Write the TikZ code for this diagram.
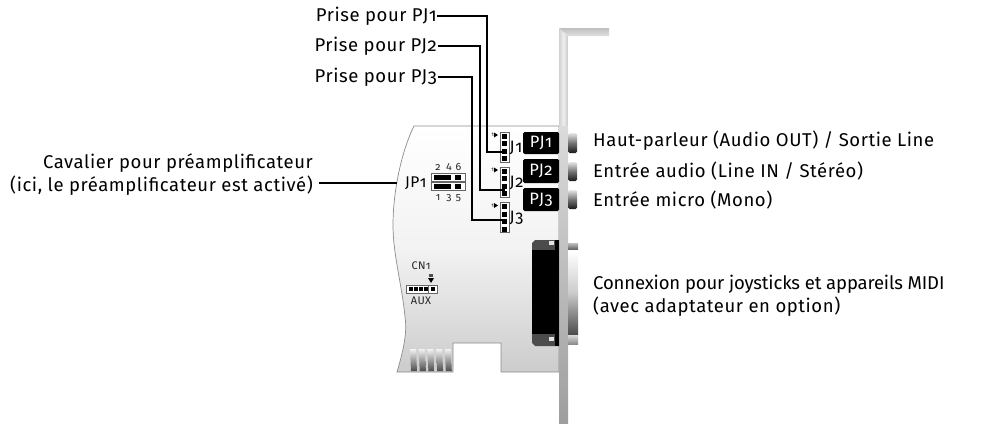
\documentclass[tikz,border=0pt]{standalone}
\usepackage{fontspec}
\setmainfont[Numbers=OldStyle,LetterSpace=3.1]{Fira Sans}
\usetikzlibrary{calc}
\tikzset{
  x=1pt,y=-1pt,
  lab/.style={inner sep=0pt,font=\fontsize{18.5}{23.5}\selectfont,align=left,anchor=west},
  labr/.style={inner sep=0pt,font=\fontsize{18.5}{23.5}\selectfont,align=right,anchor=east},
  wire/.style={draw=black,line width=2pt,line join=miter},
  pj/.style={fill=black,text=white,minimum width=36pt,inner sep=0pt,rounded corners=1.5pt,font=\fontsize{16.5}{17}\selectfont},
  tiny/.style={inner sep=0pt,font=\fontsize{10.5}{10.5}\selectfont,text=black!85},
  micro/.style={inner sep=0pt,font=\fontsize{6}{6}\selectfont},
  hdr/.style={draw=black!60,fill=white,line width=.8pt,minimum width=9pt,minimum height=30pt,inner sep=0pt},
}
\begin{document}
\begin{tikzpicture}
\useasboundingbox (0,0) rectangle (981,423);
% card
\path[draw=black!45,line width=.7pt,shade,shading angle=200,top color=white,bottom color=black!20,middle color=black!5]
 (414,126) -- (559,126) -- (559,372) -- (501,372) -- (501,343) -- (453,343) -- (453,372) -- (397,372)
 .. controls (405,345) and (407,330) .. (405,317)
 .. controls (402,285) and (393,255) .. (393,225)
 .. controls (393,190) and (402,150) .. (414,126) -- cycle;
% gold fingers
\foreach \fx in {410,418.7,427.4,436.1,444.8}
  \shade[top color=black!5,bottom color=black!70] (\fx,349) -- (\fx+6,349) -- (\fx+7,371) -- (\fx+1,371) -- cycle;
% bracket
\shade[left color=black!18,right color=black!22,middle color=black!6] (559,28) -- (568,36) -- (568,126) -- (559,126) -- cycle;
\shade[top color=black!25,bottom color=black!12] (559,28) -- (609,28) -- (609,36) -- (568,36) -- cycle;
\shade[top color=black!14,bottom color=black!38] (559,126) rectangle (568,423);
% dsub outer
\shade[shading angle=200,top color=white,bottom color=black!70,middle color=black!20] (568,251) rectangle (578,334);
\shade[top color=black!25,bottom color=black!60] (568,243) rectangle (578,249);
\shade[top color=black!15,bottom color=black!45] (568,335) rectangle (578,344);
% dsub
\fill[black!70] (559,240) -- (535,240) -- (532,243) -- (532,343) -- (535,346) -- (559,346) -- cycle;
\fill[black] (532,250) rectangle (559,334);
\fill[black] (555,240) rectangle (559,346);
\fill[black!10] (549,241) rectangle (554,245);
\fill[black!10] (549,337) rectangle (554,341);
% jacks
\foreach \jy/\jz in {133/153,162/181,190/209}
  \shade[top color=black!10,bottom color=black!90,middle color=black!55,rounded corners=1.5pt] (568,\jy) rectangle (577,\jz);
% PJ
\node[pj,minimum height=22pt] (pa) at (541,143) {PJ1};
\node[pj,minimum height=24pt] (pb) at (541,171) {PJ2};
\node[pj,minimum height=23pt] (pc) at (541,199.5) {PJ3};
% headers
\foreach \nm/\hy/\jl in {ha/147/J1,hb/182/J2,hc/217.5/J3}{
  \node[hdr] (\nm) at (504.5,\hy) {};
  \foreach \k in {-11,-3.5,4,11.5}
    \fill[black] (502,\hy+\k-2.5) rectangle (507,\hy+\k+2.5);
  \node[inner sep=0pt,font=\fontsize{16.5}{17}\selectfont,anchor=west] (\nm l) at (509.5,\hy+0.5) {\jl};
  \node[micro,anchor=east] (\nm m) at (494,\hy-12) {1};
  \fill[black] (494,\hy-14.5) -- (498,\hy-12) -- (494,\hy-9.5) -- cycle;
}
% wires
\node[labr] (ta) at (437,16) {Prise pour PJ1};
\node[labr] (tb) at (437,46) {Prise pour PJ2};
\node[labr] (tc) at (437,77) {Prise pour PJ3};
\coordinate (ea) at (505,152);
\coordinate (eb) at (505,190);
\coordinate (ec) at (505,220);
\coordinate (ca) at (487,15.5);
\coordinate (cb) at (480,46);
\coordinate (cc) at (472,77);
\draw[wire] (ta.east) ++(1,0) |- (ca) |- (ea);
\draw[wire] (tb.east) ++(1,0) -- (cb) |- (eb);
\draw[wire] (tc.east) ++(1,0) -- (cc) |- (ec);
% JP1
\node[labr] (tj) at (313,174.5) {Cavalier pour préamplificateur\\(ici, le préamplificateur est activé)};
\coordinate (ej) at (397,183);
\draw[line width=1.6pt] (319,183) coordinate (sj) -- (ej);
\node[inner sep=0pt,font=\fontsize{15.5}{16}\selectfont,anchor=west] (jp) at (405,183) {JP1};
\draw[draw=black!60,fill=white,line width=.8pt] (431,173) rectangle (465,181);
\draw[draw=black!60,fill=white,line width=.8pt] (431,182) rectangle (465,190);
\fill[black] (434,175) rectangle (451,179.5);
\fill[black] (434,184) rectangle (451,188.5);
\fill[black] (455,175) rectangle (461,179.5);
\fill[black] (455,184) rectangle (461,188.5);
\node[tiny] (n2) at (438,167) {2};
\node[tiny] (n4) at (449,167) {4};
\node[tiny] (n6) at (458.5,167) {6};
\node[tiny] (n1) at (438,197.5) {1};
\node[tiny] (n3) at (449,198.5) {3};
\node[tiny] (n5) at (458.5,198.5) {5};
% CN1
\node[tiny,font=\fontsize{11}{11}\selectfont] (cn) at (421,266) {CN1};
\node[tiny,font=\fontsize{11}{11}\selectfont] (aux) at (421,300.5) {AUX};
\draw[draw=black!60,fill=white,line width=.8pt] (406,285) rectangle (437,293);
\draw[black!60,line width=.6pt] (428.5,285) -- (428.5,293);
\foreach \cx in {411,416,421,426,433} \fill[black] (\cx-2,287) rectangle (\cx+1.5,291);
\fill[black] (428,278) -- (434,278) -- (431,283) -- cycle;
\fill[black!70] (429,274) rectangle (433,276.5);
% right labels
\node[lab] (l1) at (593,141) {Haut-parleur (Audio OUT) / Sortie Line};
\node[lab] (l2) at (593,171) {Entrée audio (Line IN / Stéréo)};
\node[lab] (l3) at (593,200) {Entrée micro (Mono)};
\node[lab] (l4) at (593,295.5) {{\addfontfeature{LetterSpace=-0.8}Connexion pour joysticks et appareils MIDI}\\(avec adaptateur en option)};
\end{tikzpicture}
\end{document}
